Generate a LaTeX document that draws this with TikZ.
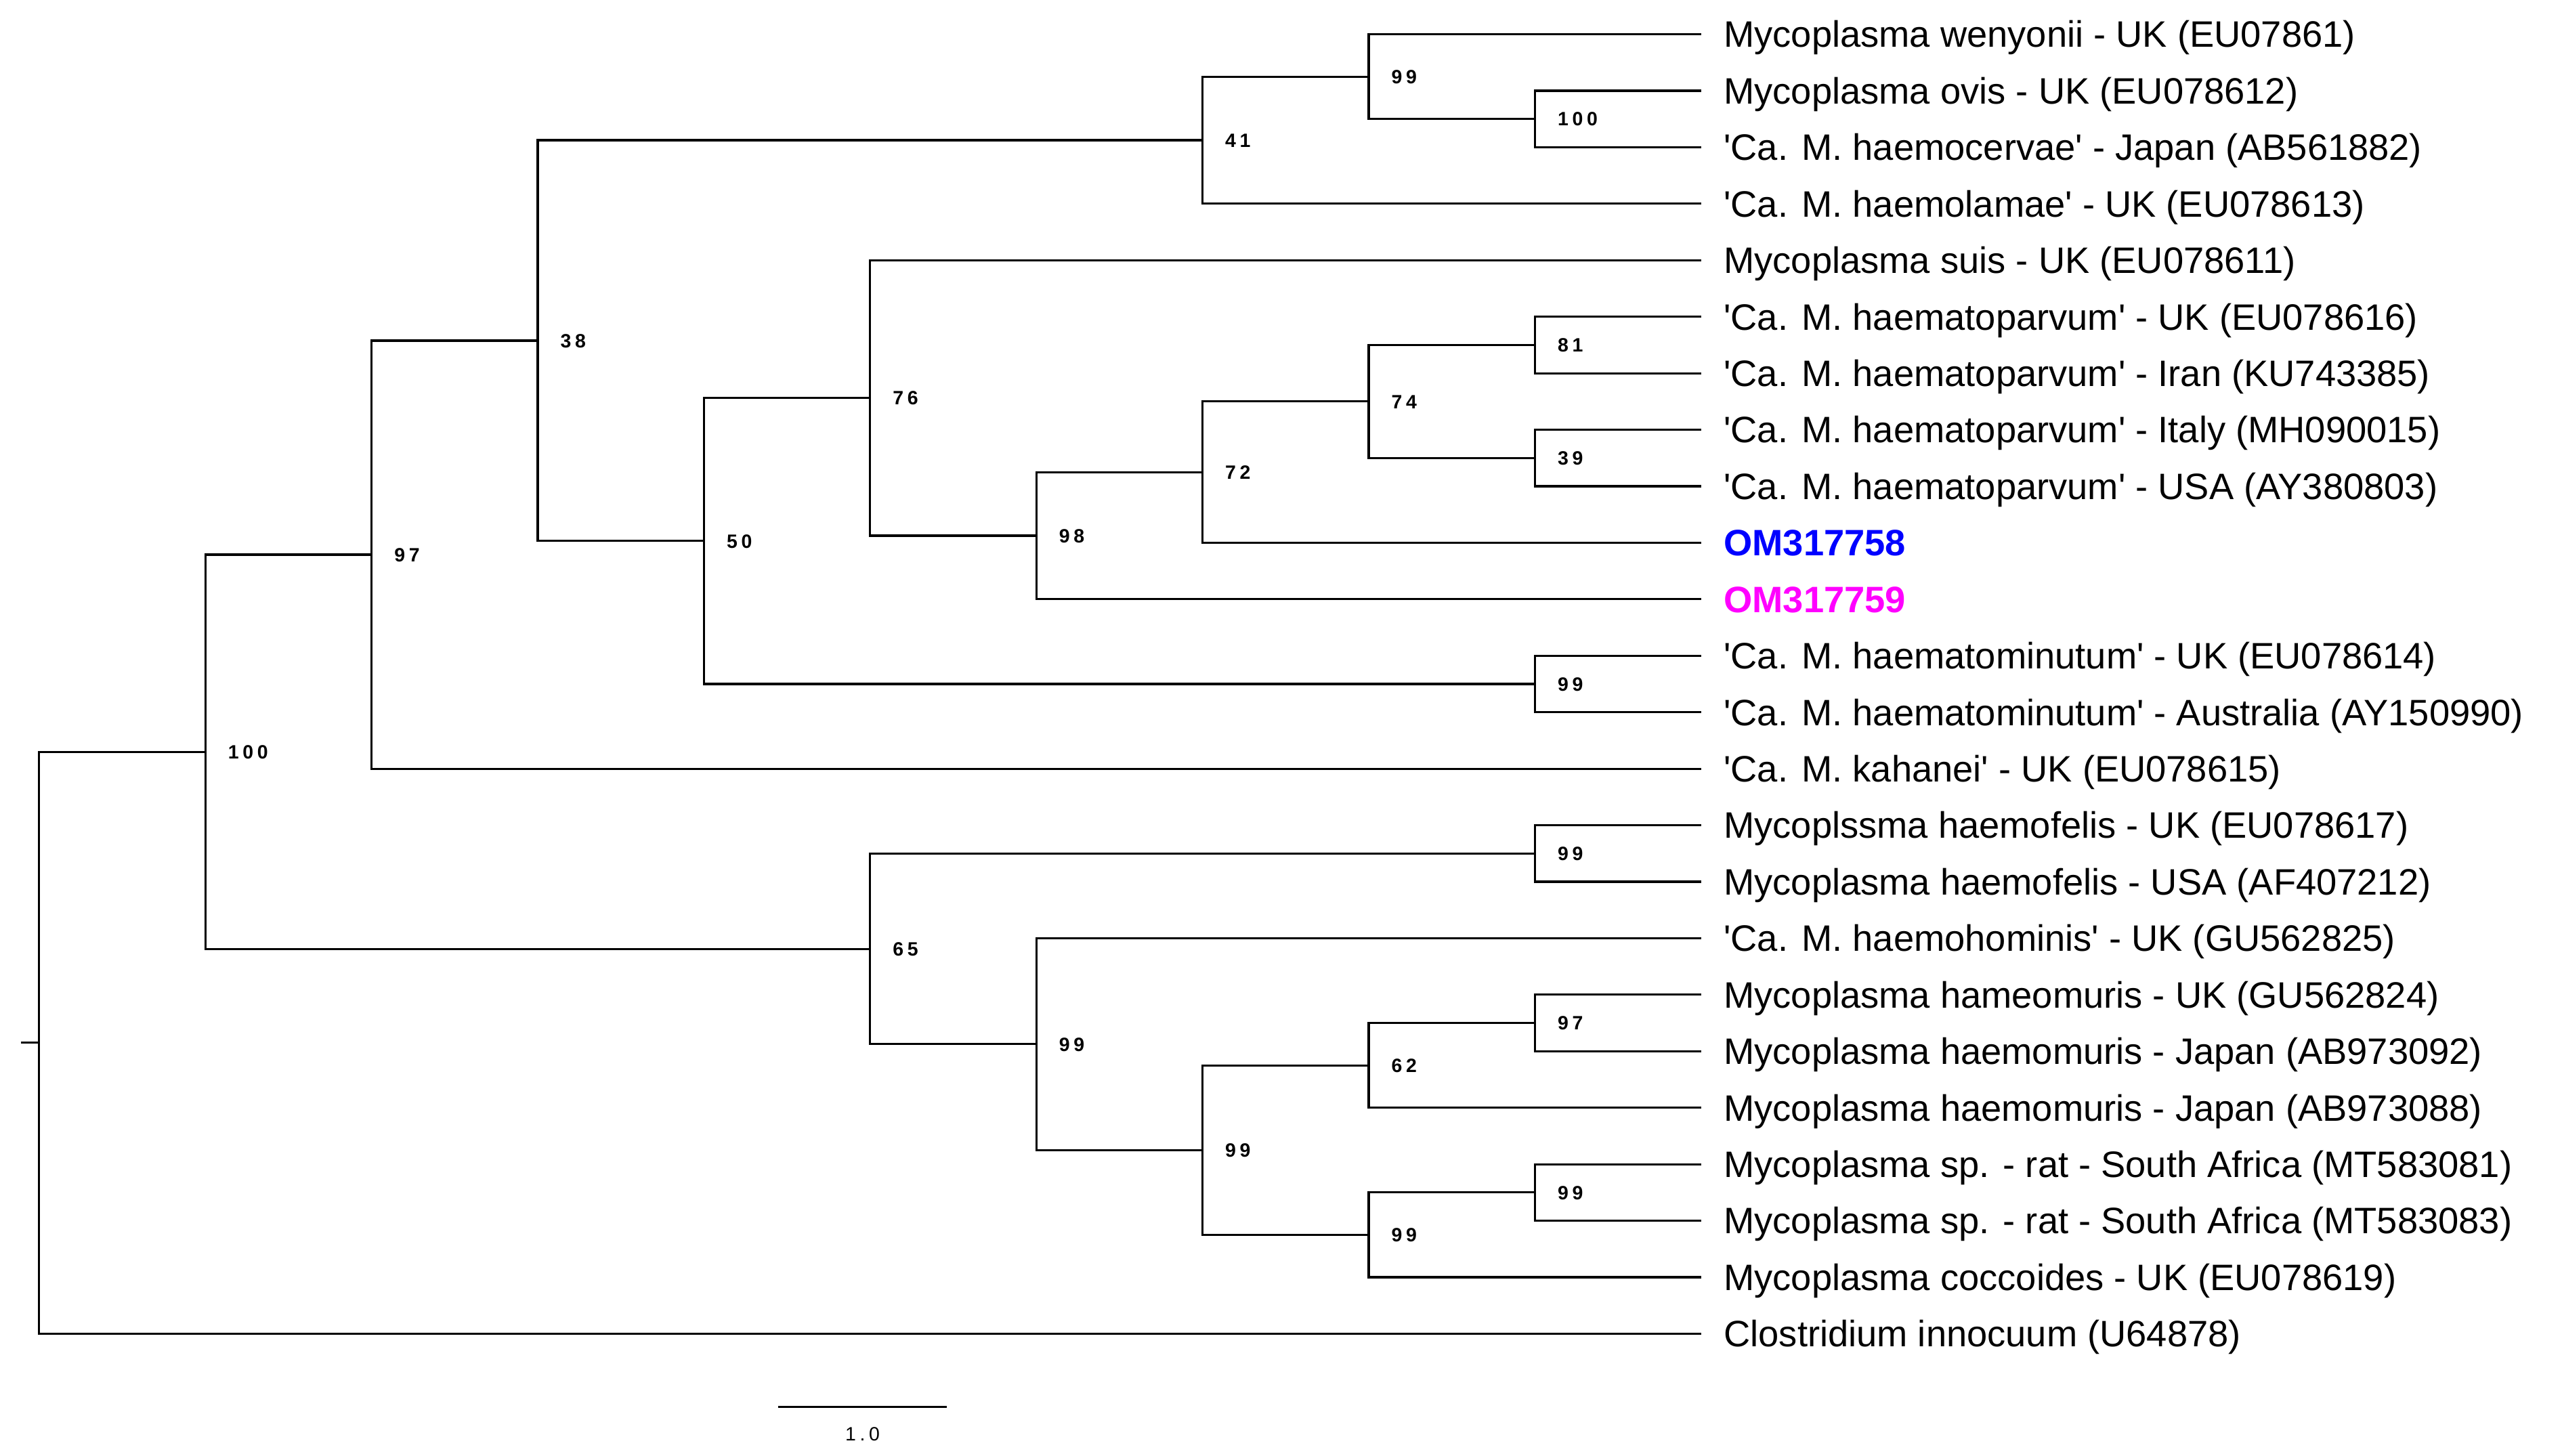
\documentclass[tikz,border=0pt]{standalone}
\usepackage{fontspec}
\setmainfont{Liberation Sans}
\newfontfamily\bootfont{Liberation Sans}[LetterSpace=20]
\usepackage{tikz}
\usetikzlibrary{positioning}
\definecolor{seqblue}{RGB}{0,0,255}
\definecolor{seqpink}{RGB}{255,0,255}
\newcommand{\qt}{\textquotesingle}
\tikzset{
  leaf/.style={anchor=west, inner xsep=0.32cm, inner ysep=0pt, text height=11.0pt, text depth=0pt, font=\fontsize{15.45}{18}\selectfont},
  boot/.style={anchor=west, inner xsep=0.32cm, inner ysep=0pt, text height=5.8pt, text depth=0pt, font=\bootfont\bfseries\fontsize{8.1}{9}\selectfont},
  scaletext/.style={inner sep=0pt, text height=5.8pt, text depth=0pt, font=\bootfont\fontsize{8.1}{9}\selectfont},
  elbow/.style={to path={|- (\tikztotarget)}}
}

\begin{document}
\begin{tikzpicture}[x=2.454cm, y=-0.8343cm, line width=0.9pt]
  \useasboundingbox (-0.2359,-0.6065) rectangle (15.168,25.163);

  \node[leaf] (l0)  at (10,0)  {Mycoplasma wenyonii - UK (EU07861)};
  \node[leaf] (l1)  at (10,1)  {Mycoplasma ovis - UK (EU078612)};
  \node[leaf] (l2)  at (10,2)  {\qt Ca. M. haemocervae\qt{} - Japan (AB561882)};
  \node[leaf] (l3)  at (10,3)  {\qt Ca. M. haemolamae\qt{} - UK (EU078613)};
  \node[leaf] (l4)  at (10,4)  {Mycoplasma suis - UK (EU078611)};
  \node[leaf] (l5)  at (10,5)  {\qt Ca. M. haematoparvum\qt{} - UK (EU078616)};
  \node[leaf] (l6)  at (10,6)  {\qt Ca. M. haematoparvum\qt{} - Iran (KU743385)};
  \node[leaf] (l7)  at (10,7)  {\qt Ca. M. haematoparvum\qt{} - Italy (MH090015)};
  \node[leaf] (l8)  at (10,8)  {\qt Ca. M. haematoparvum\qt{} - USA (AY380803)};
  \node[leaf, text=seqblue] (l9)  at (10,9)  {\bfseries OM317758};
  \node[leaf, text=seqpink] (l10) at (10,10) {\bfseries OM317759};
  \node[leaf] (l11) at (10,11) {\qt Ca. M. haematominutum\qt{} - UK (EU078614)};
  \node[leaf] (l12) at (10,12) {\qt Ca. M. haematominutum\qt{} - Australia (AY150990)};
  \node[leaf] (l13) at (10,13) {\qt Ca. M. kahanei\qt{} - UK (EU078615)};
  \node[leaf] (l14) at (10,14) {Mycoplssma haemofelis - UK (EU078617)};
  \node[leaf] (l15) at (10,15) {Mycoplasma haemofelis - USA (AF407212)};
  \node[leaf] (l16) at (10,16) {\qt Ca. M. haemohominis\qt{} - UK (GU562825)};
  \node[leaf] (l17) at (10,17) {Mycoplasma hameomuris - UK (GU562824)};
  \node[leaf] (l18) at (10,18) {Mycoplasma haemomuris - Japan (AB973092)};
  \node[leaf] (l19) at (10,19) {Mycoplasma haemomuris - Japan (AB973088)};
  \node[leaf] (l20) at (10,20) {Mycoplasma sp. - rat - South Africa (MT583081)};
  \node[leaf] (l21) at (10,21) {Mycoplasma sp. - rat - South Africa (MT583083)};
  \node[leaf] (l22) at (10,22) {Mycoplasma coccoides - UK (EU078619)};
  \node[leaf] (l23) at (10,23) {Clostridium innocuum (U64878)};

  \node[boot] (ovi)  at (9,1.5)      {100};
  \node[boot] (wen)  at (8,0.75)     {99};
  \node[boot] (lam)  at (7,1.875)    {41};
  \node[boot] (par1) at (9,5.5)      {81};
  \node[boot] (par2) at (9,7.5)      {39};
  \node[boot] (par)  at (8,6.5)      {74};
  \node[boot] (om58) at (7,7.75)     {72};
  \node[boot] (om59) at (6,8.875)    {98};
  \node[boot] (sui)  at (5,6.4375)   {76};
  \node[boot] (min)  at (9,11.5)     {99};
  \node[boot] (hem)  at (4,8.96875)  {50};
  \node[boot] (top)  at (3,5.421875) {38};
  \node[boot] (kah)  at (2,9.2109)   {97};
  \node[boot] (fel)  at (9,14.5)     {99};
  \node[boot] (mur1) at (9,17.5)     {97};
  \node[boot] (mur)  at (8,18.25)    {62};
  \node[boot] (rat1) at (9,20.5)     {99};
  \node[boot] (rat)  at (8,21.25)    {99};
  \node[boot] (rod)  at (7,19.75)    {99};
  \node[boot] (hom)  at (6,17.875)   {99};
  \node[boot] (feln) at (5,16.1875)  {65};
  \node[boot] (hmp)  at (1,12.6992)  {100};
  \coordinate (root) at (0,17.8496);
  \coordinate (stub) at (-0.11,17.8496);

  \draw (stub) -- (root);
  \path (root) edge[elbow] (hmp.west) edge[elbow] (l23.west);
  \path (hmp.west) edge[elbow] (kah.west) edge[elbow] (feln.west);
  \path (kah.west) edge[elbow] (top.west) edge[elbow] (l13.west);
  \path (top.west) edge[elbow] (lam.west) edge[elbow] (hem.west);
  \path (lam.west) edge[elbow] (wen.west) edge[elbow] (l3.west);
  \path (wen.west) edge[elbow] (l0.west) edge[elbow] (ovi.west);
  \path (ovi.west) edge[elbow] (l1.west) edge[elbow] (l2.west);
  \path (hem.west) edge[elbow] (sui.west) edge[elbow] (min.west);
  \path (sui.west) edge[elbow] (l4.west) edge[elbow] (om59.west);
  \path (om59.west) edge[elbow] (om58.west) edge[elbow] (l10.west);
  \path (om58.west) edge[elbow] (par.west) edge[elbow] (l9.west);
  \path (par.west) edge[elbow] (par1.west) edge[elbow] (par2.west);
  \path (par1.west) edge[elbow] (l5.west) edge[elbow] (l6.west);
  \path (par2.west) edge[elbow] (l7.west) edge[elbow] (l8.west);
  \path (min.west) edge[elbow] (l11.west) edge[elbow] (l12.west);
  \path (feln.west) edge[elbow] (fel.west) edge[elbow] (hom.west);
  \path (fel.west) edge[elbow] (l14.west) edge[elbow] (l15.west);
  \path (hom.west) edge[elbow] (l16.west) edge[elbow] (rod.west);
  \path (rod.west) edge[elbow] (mur.west) edge[elbow] (rat.west);
  \path (mur.west) edge[elbow] (mur1.west) edge[elbow] (l19.west);
  \path (mur1.west) edge[elbow] (l17.west) edge[elbow] (l18.west);
  \path (rat.west) edge[elbow] (rat1.west) edge[elbow] (l22.west);
  \path (rat1.west) edge[elbow] (l20.west) edge[elbow] (l21.west);

  \coordinate (sbl) at (4.446,24.29);
  \coordinate (sbr) at (5.461,24.29);
  \coordinate (sbmid) at (4.954,24.29);
  \draw (sbl) -- (sbr);
  \node[scaletext, below=0.28cm of sbmid] (sbtext) {1.0};
\end{tikzpicture}
\end{document}
